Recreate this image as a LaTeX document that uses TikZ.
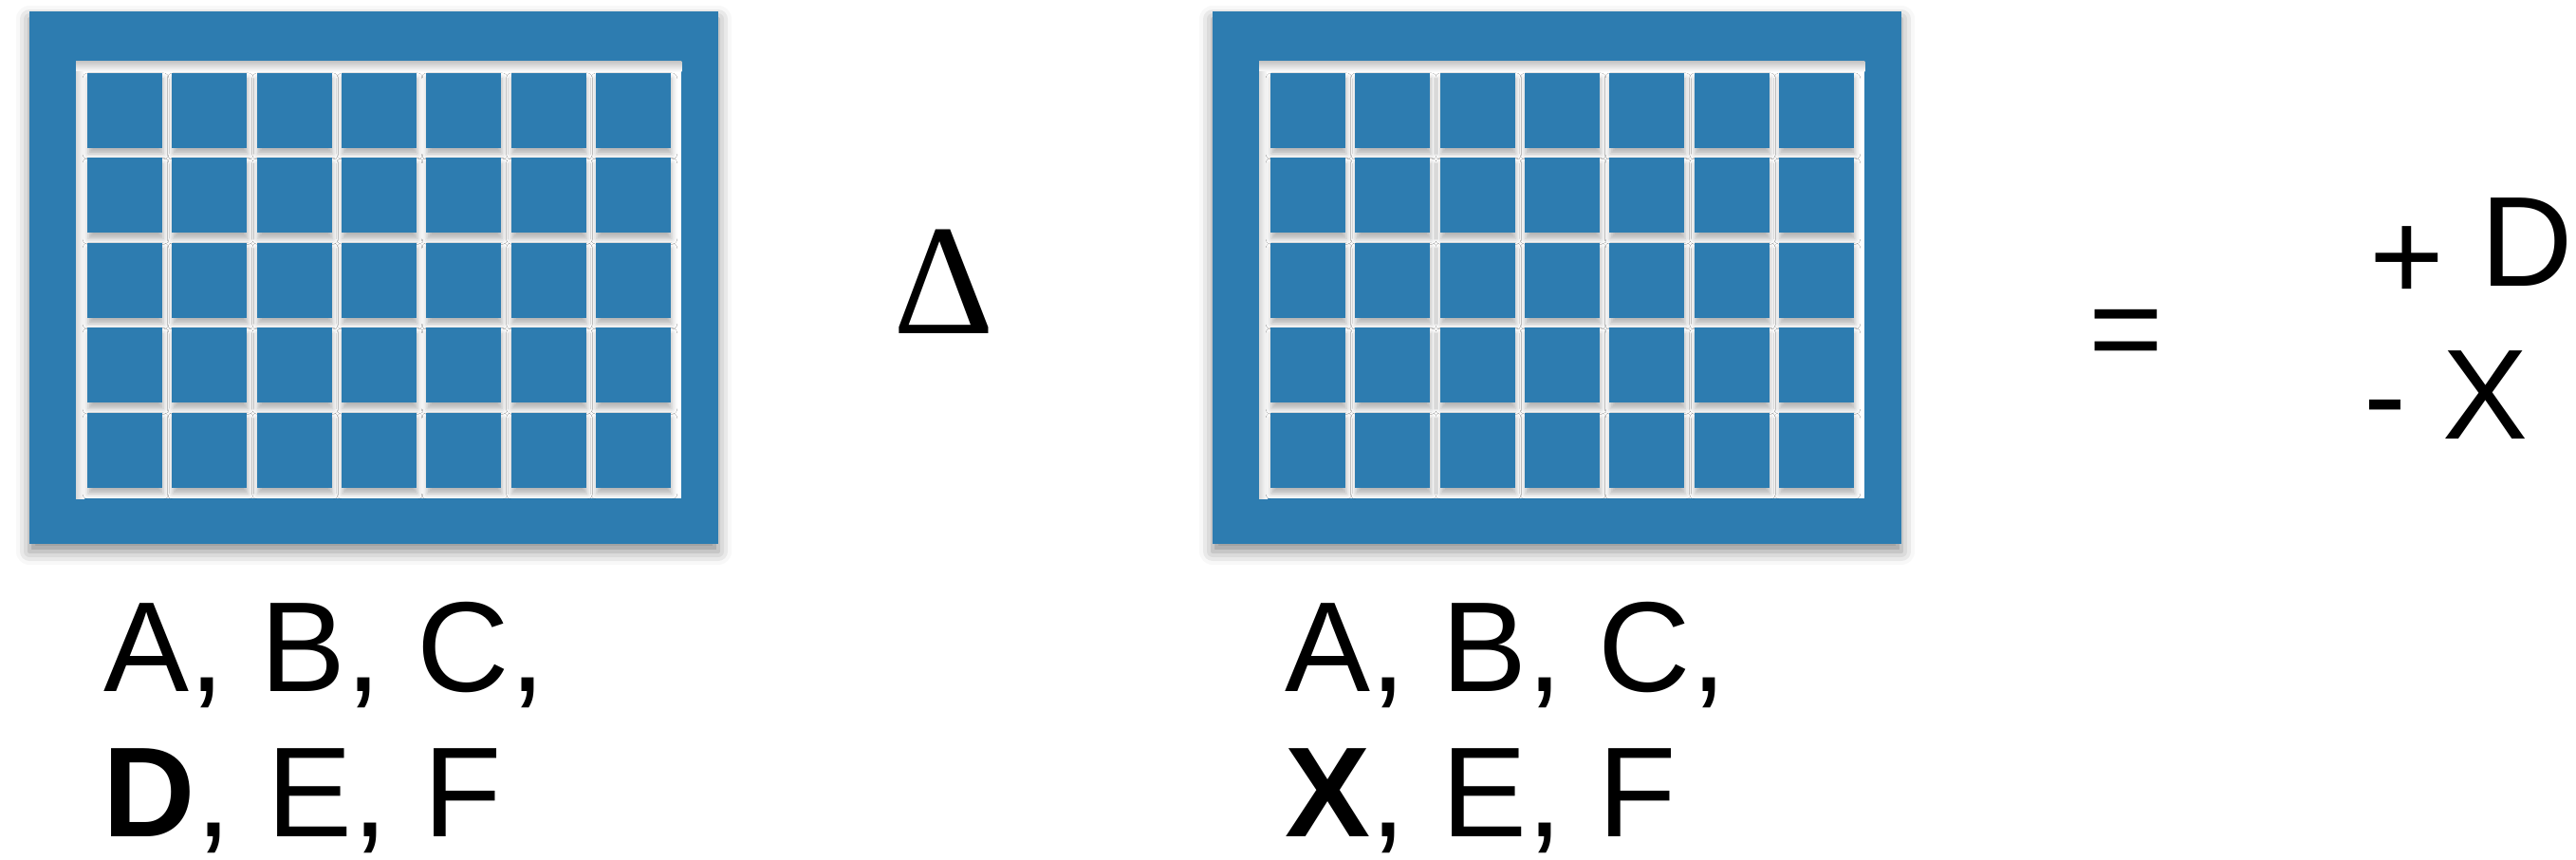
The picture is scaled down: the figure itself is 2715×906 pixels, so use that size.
\documentclass[tikz,border=0pt]{standalone}
\usepackage{fontspec}
\setmainfont{Liberation Sans}
\newfontfamily\deltafont{Liberation Serif}
\usepackage{tikz}
\usetikzlibrary{positioning,shadows.blur}

\definecolor{feltblue}{RGB}{45,124,176}

\begin{document}
\begin{tikzpicture}[
        x=0.1mm, y=-0.1mm,
        board/.style={fill=feltblue, inner sep=0pt,
                      minimum width=72.6mm, minimum height=56.1mm,
                      blur shadow={shadow xshift=0mm, shadow yshift=-0.8mm,
                                   shadow blur radius=1.4mm, shadow opacity=45}},
        window/.style={fill=white, inner sep=0pt,
                       minimum width=63.7mm, minimum height=45.9mm},
        cell/.style={fill=feltblue, inner sep=0pt, minimum size=7.9mm,
                     blur shadow={shadow xshift=0.1mm, shadow yshift=-0.6mm,
                                  shadow blur radius=0.6mm, shadow opacity=30}},
        lbl/.style={anchor=base west, inner sep=0pt,
                    font=\fontsize{38.4}{46}\selectfont}
    ]
        \useasboundingbox (0,0) rectangle (2715,906);

        % the two boards
        \foreach \s/\dx in {l/0, r/1247} {
            \node[board]  (board-\s) at (394+\dx,292.5) {};
            \node[window] (win-\s)   at (399.2+\dx,295) {};
            \shade[top color=black!22, bottom color=white]
                (win-\s.north west) rectangle ([yshift=-1.1mm]win-\s.north east);
            \shade[left color=black!15, right color=white]
                ([yshift=-1.1mm]win-\s.north west) rectangle ([xshift=0.9mm]win-\s.south west);
            \foreach \r in {0,...,4}
                \foreach \c in {0,...,6}
                    \node[cell] (cell-\s-\r-\c) at (131.5+\dx+89.3*\c,116.4+89.5*\r) {};
        }

        % labels
        \node[lbl] (lrow1) at (109,728) {A, B, C,};
        \node[lbl] (lrow2) at (108,881) {\textbf{D}, E, F};
        \node[lbl] (rrow1) at (1354,728) {A, B, C,};
        \node[lbl] (rrow2) at (1354,881) {\textbf{X}, E, F};

        \node[anchor=base, inner sep=0pt,
              font=\deltafont\fontsize{47.2}{50}\selectfont] (delta) at (995,352) {Δ};
        \node[lbl, anchor=base] (eq) at (2241,392) {=};
        \node[lbl] (plusd)  at (2497,302) {\raisebox{-1.5mm}{+} D};
        \node[lbl] (minusx) at (2491,462) {- X};
    \end{tikzpicture}
\end{document}
